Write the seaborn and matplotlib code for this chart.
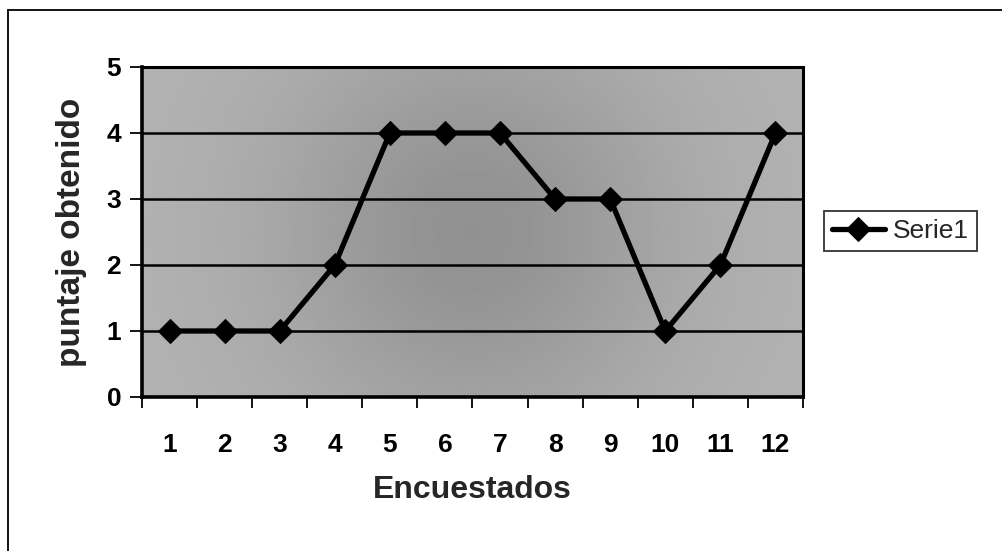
import numpy as np
import pandas as pd
import seaborn as sns
import matplotlib
matplotlib.use('Agg')
import matplotlib.pyplot as plt
from matplotlib.lines import Line2D

# data
encuestados = [1, 2, 3, 4, 5, 6, 7, 8, 9, 10, 11, 12]
puntaje = [1, 1, 1, 2, 4, 4, 4, 3, 3, 1, 2, 4]
y_ticks = [0, 1, 2, 3, 4, 5]
serie_name = 'Serie1'

df = pd.DataFrame({'Encuestados': encuestados, 'puntaje obtenido': puntaje})

sns.set_theme(style='white')
plt.rcParams['font.family'] = ['Liberation Sans', 'DejaVu Sans']

fig = plt.figure(figsize=(10.03, 5.51), dpi=100)
ax = fig.add_axes([142 / 1003, 1 - 397 / 551, 661 / 1003, 330 / 551])

# gray fill, a bit darker in the middle like the scanned original
gx = np.linspace(-1, 1, 300)
gy = np.linspace(-1, 1, 150)
GX, GY = np.meshgrid(gx, gy)
shade = 0.70 - 0.13 * np.exp(-(GX ** 2) / 0.35 - (GY ** 2) / 1.5)
ax.imshow(shade, cmap='gray', vmin=0, vmax=1, extent=[0.5, 12.5, 0, 5],
          aspect='auto', zorder=0, interpolation='bilinear')

for yv in y_ticks[1:-1]:
    ax.axhline(yv, color='black', lw=1.8, zorder=1)

sns.lineplot(data=df, x='Encuestados', y='puntaje obtenido', ax=ax,
             color='black', lw=3.8, marker='D', markersize=12,
             markeredgecolor='black', label=serie_name, zorder=3)

ax.set_xlim(0.5, 12.5)
ax.set_ylim(0, 5)
ax.set_xticks(encuestados)
ax.set_xticklabels([str(v) for v in encuestados], fontweight='bold')
ax.set_xticks(np.arange(0.5, 13, 1), minor=True)
ax.tick_params(axis='x', which='major', length=0, pad=26, labelsize=19, colors='black')
ax.tick_params(axis='x', which='minor', length=8, width=1.3, color='black', bottom=True)
ax.set_yticks(y_ticks)
ax.set_yticklabels([str(v) for v in y_ticks], fontweight='bold')
ax.tick_params(axis='y', which='major', length=9, width=1.3, pad=6, labelsize=19,
               colors='black', left=True)

for side, w in [('left', 2.6), ('bottom', 2.6), ('top', 2.2), ('right', 2.2)]:
    ax.spines[side].set_visible(True)
    ax.spines[side].set_color('black')
    ax.spines[side].set_linewidth(w)

ax.set_xlabel('Encuestados', fontsize=23, fontweight='bold', labelpad=13)
ax.set_ylabel('puntaje obtenido', fontsize=24, fontweight='bold', labelpad=14)

leg = ax.legend(loc='center left', bbox_to_anchor=(824 / 1003, 1 - 231 / 551),
                bbox_transform=fig.transFigure, fontsize=19, frameon=True,
                fancybox=False, handlelength=2.0, handletextpad=0.3,
                borderpad=0.3, borderaxespad=0)
leg.get_frame().set_edgecolor('black')
leg.get_frame().set_linewidth(1.3)
leg.get_frame().set_facecolor('white')

# outer chart border (top and left visible in the crop)
fig.add_artist(Line2D([8 / 1003, 8 / 1003], [0, 1 - 10 / 551], color='black', lw=1.3,
                      transform=fig.transFigure))
fig.add_artist(Line2D([8 / 1003, 1], [1 - 10 / 551, 1 - 10 / 551], color='black', lw=1.3,
                      transform=fig.transFigure))

plt.savefig('out.png', dpi=100, facecolor='white')
plt.close('all')
